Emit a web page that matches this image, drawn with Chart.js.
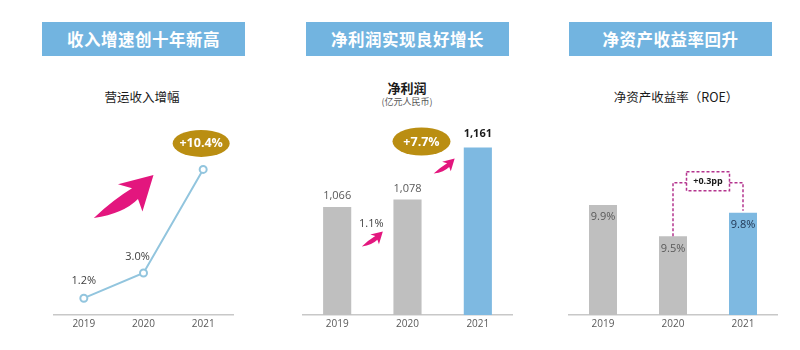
<!DOCTYPE html>
<html>
<head>
<meta charset="utf-8">
<script src="https://cdn.jsdelivr.net/npm/chart.js@4.4.1/dist/chart.umd.min.js"></script>
<style>
body { margin: 0; background: #fff; }
#page { position: relative; width: 800px; height: 350px; overflow: hidden; font-family: "Noto Sans CJK SC", sans-serif; }
.head { position: absolute; top: 22px; width: 203px; height: 34px; line-height: 34px; background: #72B4E0; color: #fff;
        font-weight: bold; font-size: 16.5px; text-align: center; letter-spacing: 0.5px; }
.sub { position: absolute; width: 200px; text-align: center; color: #1a1a1a; font-size: 12.5px; line-height: 16px; }
canvas { position: absolute; top: 120px; }
</style>
</head>
<body>
<div id="page">
  <div class="head" style="left:42px">收入增速创十年新高</div>
  <div class="head" style="left:306px">净利润实现良好增长</div>
  <div class="head" style="left:569px">净资产收益率回升</div>

  <div class="sub" style="left:42px;top:89px">营运收入增幅</div>
  <div class="sub" style="left:307px;top:80px;font-weight:bold;font-size:13px">净利润</div>
  <div class="sub" style="left:307px;top:96px;font-size:9px;line-height:12px;color:#555">(亿元人民币)</div>
  <div class="sub" style="left:576px;top:89px">净资产收益率（ROE）</div>

  <canvas id="growth" width="191" height="215" style="left:48px"></canvas>
  <canvas id="profit" width="211" height="215" style="left:302px"></canvas>
  <canvas id="roe" width="210" height="215" style="left:568px"></canvas>
</div>

<script>
// values
const years = ['2019', '2020', '2021'];
const revenueGrowth = [1.2, 3.0, 10.4];   // %
const netProfit = [1066, 1078, 1161];     // 亿元
const roeValues = [9.9, 9.5, 9.8];        // %

const GRAY = '#BFBFBF';
const BLUE = '#7EB9E1';
const LINE = '#92C5DE';
const GOLD = '#BA8E12';
const PINK = '#E3167E';
const TEXT = '#595959';

Chart.defaults.font.family = "'Open Sans', sans-serif";
Chart.defaults.animation = false;

function xAxis() {
  return {
    grid: { display: false, drawTicks: false },
    border: { display: true, color: '#C8C8C8', width: 1.5 },
    ticks: { color: TEXT, font: { size: 10 }, padding: 3 }
  };
}

// swoosh arrow inside a w x h box, tail bottom-left, tip top-right
function drawArrow(ctx, x, y, w, h) {
  const P = (u, v) => [x + u * w, y + v * h];
  ctx.save();
  ctx.fillStyle = PINK;
  ctx.beginPath();
  ctx.moveTo(...P(0, 1));
  ctx.quadraticCurveTo(...P(0.5, 0.9), ...P(0.74, 0.56));
  ctx.lineTo(...P(0.815, 0.85));
  ctx.lineTo(...P(1, 0));
  ctx.lineTo(...P(0.405, 0.215));
  ctx.lineTo(...P(0.64, 0.31));
  ctx.quadraticCurveTo(...P(0.32, 0.58), ...P(0, 1));
  ctx.fill();
  ctx.restore();
}

function drawBadge(ctx, cx, cy, w, h, text) {
  ctx.save();
  ctx.fillStyle = GOLD;
  ctx.beginPath();
  ctx.ellipse(cx, cy, w / 2, h / 2, 0, 0, Math.PI * 2);
  ctx.fill();
  ctx.fillStyle = '#fff';
  ctx.font = "bold 12.5px 'Open Sans', sans-serif";
  ctx.textAlign = 'center';
  ctx.textBaseline = 'middle';
  ctx.fillText(text, cx, cy + 0.5);
  ctx.restore();
}

function label(ctx, text, x, y, font, color) {
  ctx.save();
  ctx.font = font;
  ctx.fillStyle = color;
  ctx.textAlign = 'center';
  ctx.textBaseline = 'middle';
  ctx.fillText(text, x, y);
  ctx.restore();
}

const pct = v => v.toFixed(1) + '%';

// --- 营运收入增幅 ---
new Chart(document.getElementById('growth'), {
  type: 'line',
  data: {
    labels: years,
    datasets: [{
      data: revenueGrowth,
      borderColor: LINE,
      borderWidth: 2,
      pointRadius: 3.5,
      pointBorderWidth: 2,
      pointBackgroundColor: '#fff',
      pointBorderColor: LINE,
      tension: 0
    }]
  },
  options: {
    responsive: false,
    layout: { padding: { bottom: 2 } },
    plugins: { legend: { display: false }, tooltip: { enabled: false } },
    scales: {
      x: Object.assign(xAxis(), { offset: true }),
      y: { display: false, min: 0, max: 13.5 }
    }
  },
  plugins: [{
    id: 'growthNotes',
    afterDraw(chart) {
      const { ctx, scales: { x, y }, chartArea } = chart;
      const font = "11px 'Open Sans', sans-serif";
      label(ctx, pct(revenueGrowth[0]), x.getPixelForValue(0), y.getPixelForValue(revenueGrowth[0]) - 17, font, '#404040');
      label(ctx, pct(revenueGrowth[1]), x.getPixelForValue(1) - 6, y.getPixelForValue(revenueGrowth[1]) - 16, font, '#404040');
      drawBadge(ctx, x.getPixelForValue(2) - 2, y.getPixelForValue(revenueGrowth[2]) - 26, 57, 27, '+' + pct(revenueGrowth[2]));
      const x0 = x.getPixelForValue(0), x1 = x.getPixelForValue(1);
      drawArrow(ctx, x0 + 10, chartArea.top + 49, x1 - x0, 43);
    }
  }]
});

// --- 净利润 ---
new Chart(document.getElementById('profit'), {
  type: 'bar',
  data: {
    labels: years,
    datasets: [{
      data: netProfit,
      backgroundColor: [GRAY, GRAY, BLUE],
      barPercentage: 0.4,
      categoryPercentage: 1
    }]
  },
  options: {
    responsive: false,
    layout: { padding: { bottom: 2 } },
    plugins: { legend: { display: false }, tooltip: { enabled: false } },
    scales: {
      x: xAxis(),
      y: { display: false, min: 893, max: 1205 }
    }
  },
  plugins: [{
    id: 'profitNotes',
    afterDraw(chart) {
      const { ctx, scales: { x, y } } = chart;
      const fmt = v => v.toLocaleString('en-US');
      netProfit.forEach((v, i) => {
        const last = i === netProfit.length - 1;
        label(ctx, fmt(v), x.getPixelForValue(i), y.getPixelForValue(v) - (last ? 14 : 11),
          last ? "bold 11px 'Open Sans', sans-serif" : "11px 'Open Sans', sans-serif",
          last ? '#1a1a1a' : TEXT);
      });
      const g1 = (netProfit[1] - netProfit[0]) / netProfit[0] * 100;
      const g2 = (netProfit[2] - netProfit[1]) / netProfit[1] * 100;
      const m01 = (x.getPixelForValue(0) + x.getPixelForValue(1)) / 2;
      const m12 = (x.getPixelForValue(1) + x.getPixelForValue(2)) / 2;
      label(ctx, pct(g1), m01 - 1, y.getPixelForValue(netProfit[1]) + 24, "11px 'Open Sans', sans-serif", '#404040');
      drawArrow(ctx, m01 - 10.5, y.getPixelForValue(netProfit[1]) + 32, 21, 15);
      drawArrow(ctx, m12 - 9, y.getPixelForValue(netProfit[2]) + 11, 21, 15);
      drawBadge(ctx, x.getPixelForValue(1) + 14, y.getPixelForValue(netProfit[2]) - 6, 58, 28, '+' + pct(g2));
    }
  }]
});

// --- 净资产收益率 ---
new Chart(document.getElementById('roe'), {
  type: 'bar',
  data: {
    labels: years,
    datasets: [{
      data: roeValues,
      backgroundColor: [GRAY, GRAY, BLUE],
      barPercentage: 0.4,
      categoryPercentage: 1
    }]
  },
  options: {
    responsive: false,
    layout: { padding: { bottom: 2 } },
    plugins: { legend: { display: false }, tooltip: { enabled: false } },
    scales: {
      x: xAxis(),
      y: { display: false, min: 8.5, max: 10.98 }
    }
  },
  plugins: [{
    id: 'roeNotes',
    afterDraw(chart) {
      const { ctx, scales: { x, y } } = chart;
      roeValues.forEach((v, i) => {
        label(ctx, pct(v), x.getPixelForValue(i), y.getPixelForValue(v) + 12,
          "11px 'Open Sans', sans-serif", i === roeValues.length - 1 ? '#1F3350' : TEXT);
      });
      // dashed bracket from 2020 to 2021
      const xa = x.getPixelForValue(1), xb = x.getPixelForValue(2);
      const ya = y.getPixelForValue(roeValues[1]), yb = y.getPixelForValue(roeValues[2]);
      const top = Math.min(ya, yb) - 30;
      const cx = (xa + xb) / 2, bw = 43, bh = 19;
      ctx.save();
      ctx.strokeStyle = '#B4348E';
      ctx.lineWidth = 1.5;
      ctx.setLineDash([3, 2]);
      ctx.beginPath();
      ctx.moveTo(xa, ya);
      ctx.lineTo(xa, top);
      ctx.lineTo(cx - bw / 2, top);
      ctx.moveTo(cx + bw / 2, top);
      ctx.lineTo(xb, top);
      ctx.lineTo(xb, yb - 2);
      ctx.stroke();
      ctx.strokeRect(cx - bw / 2, top - 11, bw, bh);
      ctx.restore();
      const diff = roeValues[2] - roeValues[1];
      label(ctx, '+' + diff.toFixed(1) + 'pp', cx, top - 1.5, "bold 9px 'Open Sans', sans-serif", '#1a1a1a');
    }
  }]
});
</script>
</body>
</html>
